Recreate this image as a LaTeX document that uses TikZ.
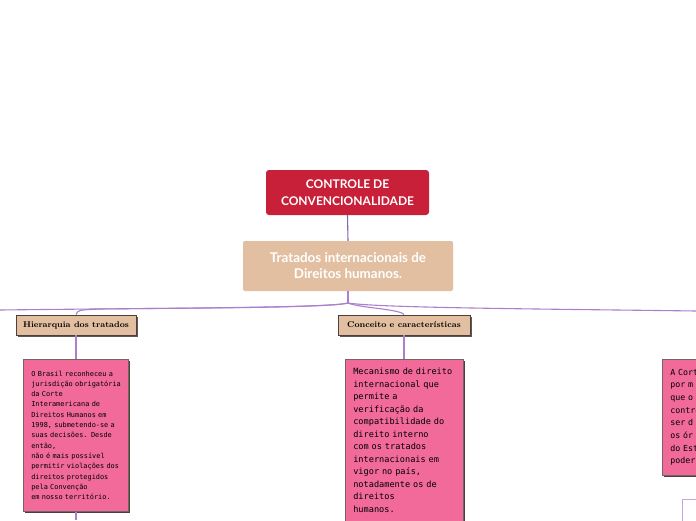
\documentclass[tikz,border=0pt]{standalone}
\usepackage{fontspec}
\newfontfamily\labelfont{Lato}
\newfontfamily\monofont{DejaVu Sans Mono}
\usepackage{tikz}
\usetikzlibrary{positioning,shadows}
\definecolor{rootred}{RGB}{200,32,56}
\definecolor{tan}{RGB}{226,191,160}
\definecolor{notepink}{RGB}{242,106,153}
\definecolor{linkpurple}{RGB}{170,128,204}
\definecolor{edgegray}{RGB}{80,62,58}

\begin{document}
\begin{tikzpicture}[
  x=1pt,y=-1pt,
  rootbox/.style={rectangle,rounded corners=3pt,fill=rootred,text=white,
                  align=center,minimum width=163pt,minimum height=45pt,
                  font=\fontsize{12}{17}\selectfont\labelfont\bfseries},
  topicbox/.style={rectangle,rounded corners=2pt,fill=tan,text=white,
                   align=center,minimum width=210pt,minimum height=50pt,
                   font=\fontsize{13.4}{16}\selectfont\labelfont\bfseries},
  subbox/.style={rectangle,draw=edgegray,line width=0.8pt,fill=tan,
                 minimum height=20pt,inner xsep=3pt,
                 font=\fontsize{8.3}{10}\selectfont\bfseries,
                 drop shadow={shadow xshift=2pt,shadow yshift=-2pt,opacity=1,fill=gray!70!black}},
  notebox/.style={rectangle,draw=edgegray!80,line width=0.6pt,fill=notepink,
                  align=left,anchor=north west,inner xsep=8pt,inner ysep=9pt,
                  execute at begin node={\hyphenpenalty=10000},
                  drop shadow={shadow xshift=2pt,shadow yshift=-2pt,opacity=1,fill=edgegray}},
  link/.style={draw=linkpurple,line width=1.1pt}
]
  \clip (0,0) rectangle (696,520);
  \fill[white] (0,0) rectangle (696,520);

  \node[rootbox] (root) at (347.5,192.5) {CONTROLE DE\\CONVENCIONALIDADE};
  \node[topicbox] (trat) at (348,266) {Tratados internacionais de\\Direitos humanos.};

  \node[subbox,minimum width=120pt] (hier) at (76,325) {Hierarquia dos tratados};
  \node[subbox,minimum width=132pt] (conc) at (404,325) {Conceito e caracter\'isticas};

  \node[notebox,minimum width=105pt,minimum height=152pt,text width=95pt,inner xsep=5pt,
        font=\fontsize{6.9}{10.3}\selectfont\monofont] (hiernote) at (23,359)
    {\hspace*{3pt}\parbox{92pt}{\raggedright O Brasil reconheceu a\\jurisdição obrigatória\\da Corte\\Interamericana de\\Direitos Humanos em\\1998, submetendo-se a\\suas decisões. Desde\\então,\\não é mais possível\\permitir violações dos\\direitos protegidos\\pela Convenção\\em nosso território.}};

  \node[notebox,minimum width=118pt,text width=102pt,
        font=\fontsize{8.6}{12.5}\selectfont\monofont] (concnote) at (345,359)
    {Mecanismo de direito\\internacional que\\permite a\\verificação da\\compatibilidade do\\direito interno\\com os tratados\\internacionais em\\vigor no país,\\notadamente os de\\direitos\\humanos.\\\mbox{}};

  \node[notebox,minimum width=120pt,minimum height=116pt,text width=104pt,
        font=\fontsize{8.3}{12.7}\selectfont\monofont] (rightnote) at (662,359)
    {A Corte\\por m\\que o\\contro\\ser d\\os ór\\do Est\\poder};

  \node[rectangle,draw=linkpurple!70,fill=white,anchor=north west,minimum width=40pt,
        minimum height=24pt,align=left,inner xsep=6pt,text=notepink,
        font=\fontsize{7.5}{10}\selectfont\monofont] (smallbox) at (682,499) {0};

  \coordinate (fork) at (348,303);
  \coordinate (leftend) at (0,310);
  \coordinate (rightend) at (696,311);
  \coordinate (hjoin) at (100,309);
  \coordinate (hierdown) at (76,520);

  \draw[link,draw=linkpurple!80!black] (root.south) -- (trat.north);
  \draw[link] (trat.south) -- (fork);
  \draw[link] (fork) .. controls (330,308) and (160,308) .. (leftend);
  \draw[link] (fork) .. controls (330,308) and (180,308) .. (hjoin)
                     .. controls (78,310) .. (hier.north);
  \draw[link] (fork) .. controls (360,308) and (400,309) .. (conc.north);
  \draw[link] (fork) .. controls (380,308) and (550,309) .. (rightend);

  \draw[link] (hier.south) -- (hiernote.north -| hier.south);
  \draw[link] (hiernote.south -| hier.south) -- (hierdown);
  \draw[link] (conc.south) -- (concnote.north -| conc.south);
\end{tikzpicture}
\end{document}
